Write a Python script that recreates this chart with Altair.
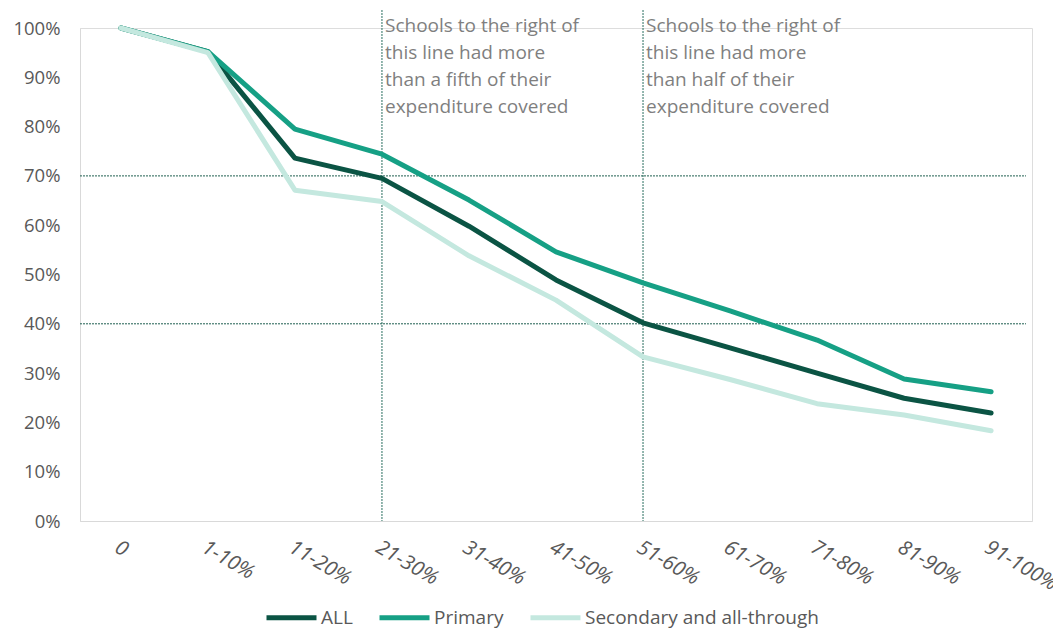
import altair as alt
import pandas as pd

cats = ["0", "1-10%", "11-20%", "21-30%", "31-40%", "41-50%", "51-60%",
        "61-70%", "71-80%", "81-90%", "91-100%"]
all_vals = [100, 95.2, 73.6, 69.5, 59.8, 48.9, 40.2, 35.1, 30.0, 24.9, 21.9]
primary_vals = [100, 95.2, 79.5, 74.4, 65.1, 54.6, 48.3, 42.6, 36.7, 28.8, 26.2]
secondary_vals = [100, 95.0, 67.1, 64.8, 53.8, 44.8, 33.3, 28.7, 23.8, 21.5, 18.3]
series = ["ALL", "Primary", "Secondary and all-through"]
colors = ["#0b5444", "#16a085", "#c4e8df"]

hlines = [0.70, 0.40]
vlines = ["21-30%", "51-60%"]
notes = [
    "Schools to the right of\nthis line had more\nthan a fifth of their\nexpenditure covered",
    "Schools to the right of\nthis line had more\nthan half of their\nexpenditure covered",
]

rows = []
for name, vals in zip(series, [all_vals, primary_vals, secondary_vals]):
    for c, v in zip(cats, vals):
        rows.append({"cat": c, "value": v / 100.0, "series": name})
df = pd.DataFrame(rows)

FONT = "Open Sans"
GREY = "#595959"

xenc = alt.X("cat:N", sort=cats, scale=alt.Scale(type="point", padding=0.47),
             axis=alt.Axis(title=None, labelAngle=30, labelFontStyle="italic",
                           labelFontSize=20.5, labelColor=GREY, labelFont=FONT,
                           ticks=False, labelPadding=16, domainColor="#d9d9d9",
                           labelAlign="left", labelBaseline="top"))
yenc = alt.Y("value:Q", scale=alt.Scale(domain=[0, 1], nice=False),
             axis=alt.Axis(title=None, format=".0%", values=[i / 10 for i in range(11)],
                           grid=False, ticks=False, labelFontSize=18.5, labelColor=GREY,
                           labelFont=FONT, labelPadding=20, domainColor="#d9d9d9"))

lines = alt.Chart(df).mark_line(strokeWidth=5, strokeJoin="round", strokeCap="round").encode(
    x=xenc,
    y=yenc,
    color=alt.Color("series:N", sort=series,
                    scale=alt.Scale(domain=series, range=colors),
                    legend=alt.Legend(title=None, orient="none", direction="horizontal",
                                      legendX=184, legendY=562, symbolType="stroke",
                                      symbolStrokeWidth=5, symbolSize=2500,
                                      labelFontSize=19, labelColor=GREY, labelFont=FONT,
                                      labelOffset=2, columnPadding=16, labelLimit=0)),
    order=alt.Order("series:N"),
)

hdf = pd.DataFrame({"y": hlines})
hrules = alt.Chart(hdf).mark_rule(color="#1f5f50", strokeWidth=1, strokeDash=[2, 1]).encode(
    y=alt.Y("y:Q", scale=alt.Scale(domain=[0, 1], nice=False)),
    x=alt.value(0), x2=alt.value(946),
)

vdf = pd.DataFrame({"cat": vlines, "note": notes})
vrules = alt.Chart(vdf).mark_rule(color="#2a6e60", strokeWidth=1, strokeDash=[2, 1]).encode(
    x=alt.X("cat:N", sort=cats),
    y=alt.value(-18), y2=alt.value(493),
)
texts = alt.Chart(vdf).mark_text(align="left", baseline="top", dx=3, fontSize=19,
                                 font=FONT, color="#7f7f7f", lineBreak="\n",
                                 lineHeight=27).encode(
    x=alt.X("cat:N", sort=cats),
    y=alt.value(-11),
    text="note:N",
)

chart = alt.layer(hrules, vrules, lines, texts).properties(
    width=952, height=493, autosize="none",
    padding={"left": 72, "top": 20, "right": 21, "bottom": 108},
).configure_view(stroke=None).configure(font=FONT)

chart.save("out.html", embed_options={"renderer": "svg", "actions": False})
